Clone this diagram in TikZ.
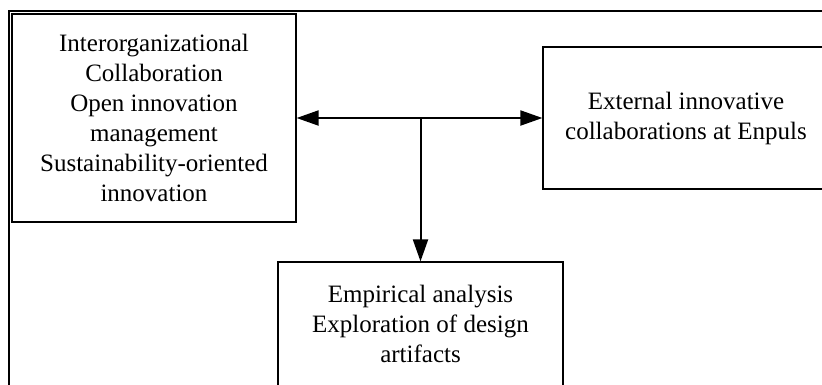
\documentclass[tikz,border=0pt]{standalone}
\usepackage{fontspec}
\setmainfont{Liberation Serif}
\usetikzlibrary{arrows.meta}

\tikzset{
  block/.style={draw,line width=1.2pt,align=center,inner sep=0pt,
    font=\fontsize{25}{30}\selectfont},
  link/.style={line width=2pt},
}

\begin{document}
\begin{tikzpicture}[x=1pt,y=-1pt,>={Triangle[length=22pt,width=15pt]}]
  \clip (0,0) rectangle (822,384);
  % outer frame of the figure
  \draw[line width=2.5pt] (9,11) rectangle (860,420);
  \node[block,minimum width=284pt,minimum height=208pt] (lit) at (154,118)
    {Interorganizational\\Collaboration\\Open innovation\\management\\Sustainability-oriented\\innovation};
  \node[block,minimum width=286pt,minimum height=142pt] (ext) at (686,118)
    {External innovative\\collaborations at Enpuls};
  \node[block,minimum width=285pt,minimum height=124pt] (emp) at (420.5,324)
    {Empirical analysis\\Exploration of design\\artifacts};
  \coordinate (hub) at (lit.east -| emp.north);
  \draw[link,<->] (lit.east) -- (ext.west);
  \draw[link,->] (hub) -- (emp.north);
\end{tikzpicture}
\end{document}
